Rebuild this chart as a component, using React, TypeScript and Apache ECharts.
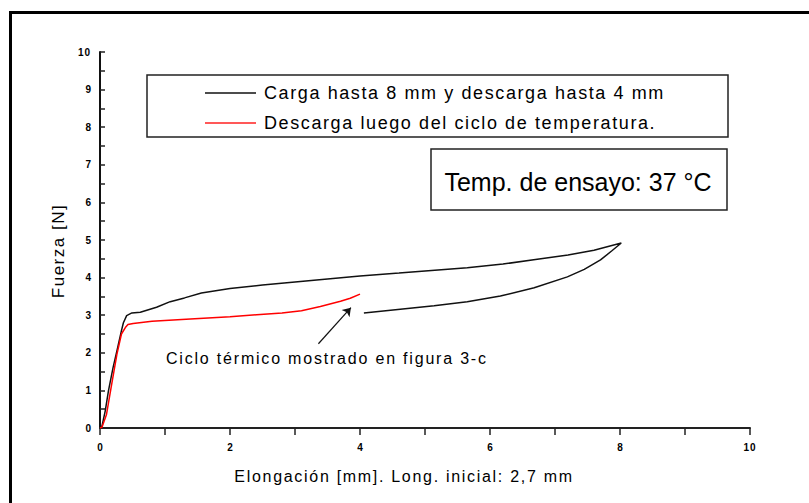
import React, { useEffect, useRef } from "react";
import * as echarts from "echarts";

// Black curve: loading up to 8 mm, then unloading back to ~4 mm
const blackX = [0, 0.03, 0.08, 0.13, 0.2, 0.26, 0.33, 0.36, 0.41, 0.49, 0.62, 0.87, 1.08, 1.3, 1.56, 2.0, 2.5, 3.0, 3.5, 4.0, 4.6, 5.1, 5.65, 6.2, 6.7, 7.2, 7.6, 8.02,
  7.88, 7.7, 7.45, 7.19, 6.68, 6.16, 5.65, 5.14, 4.62, 4.06];
const blackY = [0, 0.05, 0.45, 0.99, 1.6, 2.05, 2.59, 2.8, 2.99, 3.06, 3.08, 3.21, 3.36, 3.46, 3.59, 3.71, 3.8, 3.88, 3.96, 4.04, 4.12, 4.19, 4.26, 4.36, 4.48, 4.6, 4.73, 4.92,
  4.72, 4.47, 4.22, 4.02, 3.73, 3.51, 3.36, 3.25, 3.16, 3.06];

// Red curve: unloading after the temperature cycle
const redX = [0, 0.03, 0.1, 0.18, 0.26, 0.33, 0.39, 0.43, 0.51, 0.8, 1.39, 2.0, 2.41, 2.8, 3.1, 3.39, 3.7, 3.85, 4.0];
const redY = [0, 0.02, 0.36, 1.17, 1.96, 2.5, 2.67, 2.75, 2.78, 2.84, 2.9, 2.96, 3.01, 3.06, 3.12, 3.23, 3.37, 3.45, 3.56];

// Arrow pointing to the end of the red curve
const arrowFrom = [3.36, 2.24];
const arrowTo = [3.86, 3.2];

const legendNames = [
  "Carga hasta 8 mm y descarga hasta 4 mm",
  "Descarga luego del ciclo de temperatura.",
];
const tempLabel = "Temp. de ensayo: 37 °C";
const noteLabel = "Ciclo térmico mostrado en figura 3-c";
const xTitle = "Elongación [mm]. Long. inicial: 2,7 mm";
const yTitle = "Fuerza [N]";

const FONT = "'Liberation Sans', Arial, sans-serif";

// extra letter spacing, imitating the wide spacing of the original rendering
const letterSpacing: Record<string, string> = {
  [legendNames[0]]: "1.6px",
  [legendNames[1]]: "1.6px",
  [noteLabel]: "1.8px",
  [xTitle]: "1.7px",
  [yTitle]: "1.5px",
  "10": "1px",
};

export default function App() {
  const ref = useRef<HTMLDivElement>(null);
  useEffect(() => {
    if (!ref.current) return;
    const chart = echarts.init(ref.current, undefined, { renderer: "svg" });
    const black = blackX.map((x, i) => [x, blackY[i]]);
    const red = redX.map((x, i) => [x, redY[i]]);
    chart.setOption({
      animation: false,
      backgroundColor: "#ffffff",
      textStyle: { fontFamily: FONT },
      grid: { left: 100, right: 59, top: 52, bottom: 75 },
      xAxis: {
        type: "value",
        min: 0,
        max: 10,
        interval: 2,
        axisLine: { show: true, onZero: false, lineStyle: { color: "#222", width: 2 } },
        axisTick: { show: true, inside: false, length: 7, lineStyle: { color: "#222", width: 1.5 } },
        minorTick: { show: true, splitNumber: 2, length: 7, lineStyle: { color: "#222", width: 1.5 } },
        splitLine: { show: false },
        axisLabel: { fontSize: 10, fontWeight: "bold", color: "#000", margin: 14, fontFamily: FONT },
      },
      yAxis: {
        type: "value",
        min: 0,
        max: 10,
        interval: 1,
        axisLine: { show: true, onZero: false, lineStyle: { color: "#111", width: 2 } },
        axisTick: { show: true, inside: true, length: 5, lineStyle: { color: "#222", width: 1.5 } },
        minorTick: { show: true, splitNumber: 2, length: 5, lineStyle: { color: "#222", width: 1.5 } },
        splitLine: { show: false },
        axisLabel: { fontSize: 10, fontWeight: "bold", color: "#000", margin: 9, fontFamily: FONT },
      },
      series: [
        {
          name: legendNames[0],
          type: "line",
          data: black,
          showSymbol: false,
          symbol: "none",
          lineStyle: { color: "#111", width: 1.5 },
          z: 2,
        },
        {
          name: legendNames[1],
          type: "line",
          data: red,
          showSymbol: false,
          symbol: "none",
          lineStyle: { color: "#ff0000", width: 1.5 },
          z: 3,
        },
        {
          type: "lines",
          coordinateSystem: "cartesian2d",
          symbol: ["none", "arrow"],
          symbolSize: 8,
          lineStyle: { color: "#111", width: 1.2, opacity: 1 },
          data: [{ coords: [arrowFrom, arrowTo] }],
          z: 4,
        },
      ],
      graphic: [
        {
          type: "rect",
          left: 8,
          top: 10,
          shape: { x: 0, y: 0, width: 830, height: 520 },
          style: { fill: "none", stroke: "#000", lineWidth: 3 },
          silent: true,
        },
        {
          type: "text",
          x: 404,
          y: 476,
          style: { text: xTitle, fontSize: 16, fontFamily: FONT, fill: "#000", verticalAlign: "middle", align: "center" },
        },
        {
          type: "text",
          x: 58,
          y: 251,
          rotation: Math.PI / 2,
          style: { text: yTitle, fontSize: 17, fontFamily: FONT, fill: "#000", verticalAlign: "middle", align: "center" },
        },
        {
          type: "rect",
          shape: { x: 147, y: 75, width: 581, height: 62 },
          style: { fill: "#fff", stroke: "#222", lineWidth: 1.5 },
          z: 10,
        },
        {
          type: "line",
          shape: { x1: 205, y1: 93, x2: 256, y2: 93 },
          style: { stroke: "#111", lineWidth: 1.5 },
          z: 11,
        },
        {
          type: "text",
          x: 264,
          y: 93,
          style: { text: legendNames[0], fontSize: 18, fontFamily: FONT, fill: "#000", verticalAlign: "middle", align: "left" },
          z: 11,
        },
        {
          type: "line",
          shape: { x1: 205, y1: 123, x2: 256, y2: 123 },
          style: { stroke: "#ff2020", lineWidth: 1.5 },
          z: 11,
        },
        {
          type: "text",
          x: 264,
          y: 123,
          style: { text: legendNames[1], fontSize: 18, fontFamily: FONT, fill: "#000", verticalAlign: "middle", align: "left" },
          z: 11,
        },
        {
          type: "rect",
          shape: { x: 431, y: 149, width: 296, height: 61 },
          style: { fill: "#fff", stroke: "#222", lineWidth: 1.5 },
          z: 10,
        },
        {
          type: "text",
          x: 578,
          y: 182,
          style: { text: tempLabel, fontSize: 25, fontFamily: FONT, fill: "#000", verticalAlign: "middle", align: "center" },
          z: 11,
        },
        {
          type: "text",
          x: 166,
          y: 358,
          style: { text: noteLabel, fontSize: 16, fontFamily: FONT, fill: "#000", verticalAlign: "middle", align: "left" },
          z: 11,
        },
      ],
    });
    const applySpacing = () => {
      if (!ref.current) return;
      ref.current.querySelectorAll("text").forEach((t) => {
        const s = letterSpacing[t.textContent || ""];
        if (s) (t as SVGTextElement).style.letterSpacing = s;
      });
    };
    applySpacing();
    chart.on("finished", applySpacing);
    return () => chart.dispose();
  }, []);
  return (
    <div
      ref={ref}
      style={{ position: "fixed", left: 0, top: 0, width: 809, height: 503, background: "#fff" }}
    />
  );
}
